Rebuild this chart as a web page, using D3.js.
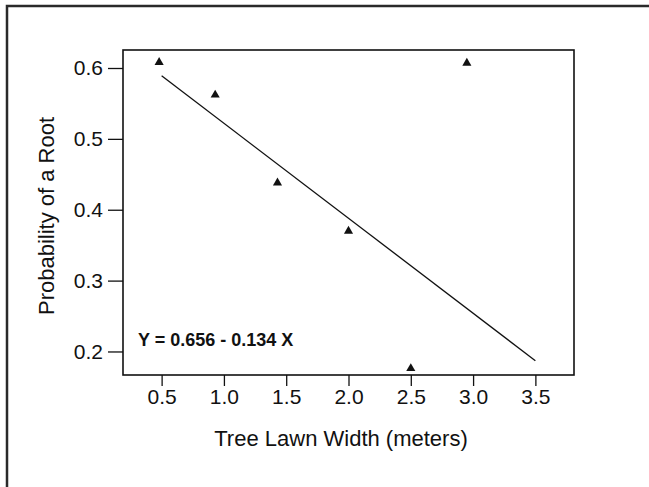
<!DOCTYPE html>
<html>
<head>
<meta charset="utf-8">
<script src="https://cdn.jsdelivr.net/npm/d3@7"></script>
<style>
  html, body { margin: 0; padding: 0; background: #fff; }
  svg { display: block; font-family: "Liberation Sans", Arial, sans-serif; }
</style>
</head>
<body>
<div id="chart"></div>
<script>
'use strict';

// data
let widths = [0.48, 0.93, 1.43, 2.0, 2.5, 2.95];
let probs = [0.608, 0.562, 0.438, 0.370, 0.176, 0.607];
let fitCoef = [0.656, -0.134];   // intercept, slope
let fitRange = [0.5, 3.5];
let xTicks = [0.5, 1.0, 1.5, 2.0, 2.5, 3.0, 3.5];
let yTicks = [0.2, 0.3, 0.4, 0.5, 0.6];
let xTitle = 'Tree Lawn Width (meters)';
let yTitle = 'Probability of a Root';
let eqText = 'Y = 0.656 - 0.134 X';

let w = 649;
let h = 487;
let box = { left: 123, top: 50, right: 574, bottom: 375 };

let svg = d3.select('#chart').append('svg')
	.attr('width', w)
	.attr('height', h);

// outer frame (runs off the page on the right and bottom)
svg.append('rect')
	.attr('x', 7)
	.attr('y', 6)
	.attr('width', 700)
	.attr('height', 600)
	.attr('fill', 'none')
	.attr('stroke', '#2a2a2a')
	.attr('stroke-width', 2.5);

let x = d3.scaleLinear().domain([0.19, 3.81]).range([box.left, box.right]);
let y = d3.scaleLinear().domain([0.1668, 0.6254]).range([box.bottom, box.top]);

// plot box
svg.append('rect')
	.attr('x', box.left)
	.attr('y', box.top)
	.attr('width', box.right - box.left)
	.attr('height', box.bottom - box.top)
	.attr('fill', 'none')
	.attr('stroke', '#111')
	.attr('stroke-width', 1.6);

let xAxis = svg.append('g')
	.attr('transform', `translate(0,${box.bottom})`)
	.call(d3.axisBottom(x).tickValues(xTicks).tickFormat(d3.format('.1f')).tickSize(11).tickPadding(3));

let yAxis = svg.append('g')
	.attr('transform', `translate(${box.left},0)`)
	.call(d3.axisLeft(y).tickValues(yTicks).tickFormat(d3.format('.1f')).tickSize(15).tickPadding(5));

[xAxis, yAxis].forEach(a => {
	a.select('.domain').remove();
	a.selectAll('line').attr('stroke', '#111').attr('stroke-width', 1.3);
	a.selectAll('text')
		.attr('fill', '#111')
		.style('font-size', '21px')
		.style('font-family', '"Liberation Sans", Arial, sans-serif');
});

// regression line
let fit = d => fitCoef[0] + fitCoef[1] * d;
svg.append('line')
	.attr('x1', x(fitRange[0]))
	.attr('y1', y(fit(fitRange[0])))
	.attr('x2', x(fitRange[1]))
	.attr('y2', y(fit(fitRange[1])))
	.attr('stroke', '#111')
	.attr('stroke-width', 1.3);

// points
let tri = d3.symbol().type(d3.symbolTriangle).size(36);
svg.selectAll('path.pt')
	.data(widths.map((d, i) => [d, probs[i]]))
	.enter()
	.append('path')
	.attr('class', 'pt')
	.attr('d', tri)
	.attr('transform', d => `translate(${x(d[0])},${y(d[1])})`)
	.attr('fill', '#111');

// equation
svg.append('text')
	.text(eqText)
	.attr('x', 138)
	.attr('y', 346)
	.attr('font-size', '18px')
	.attr('font-weight', 'bold')
	.attr('fill', '#111');

// axis titles
svg.append('text')
	.text(xTitle)
	.attr('x', 341)
	.attr('y', 446)
	.attr('text-anchor', 'middle')
	.attr('font-size', '22px')
	.attr('fill', '#111');

svg.append('text')
	.text(yTitle)
	.attr('transform', 'translate(54,216) rotate(-90)')
	.attr('text-anchor', 'middle')
	.attr('font-size', '22px')
	.attr('fill', '#111');
</script>
</body>
</html>
